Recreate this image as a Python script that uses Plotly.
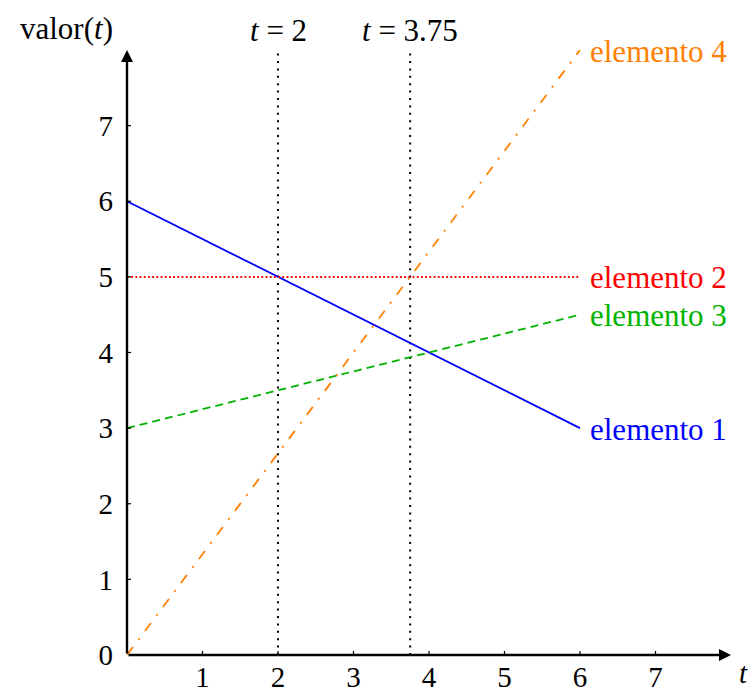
import plotly.graph_objects as go

# Time span over which each element is drawn
t_span = [0, 6]
elemento_1 = [6, 3]
elemento_2 = [5, 5]
elemento_3 = [3, 4.5]
elemento_4 = [0, 8]

series_names = ["elemento 1", "elemento 2", "elemento 3", "elemento 4"]
series_values = [elemento_1, elemento_2, elemento_3, elemento_4]
series_colors = ["#0000ff", "#ff0000", "#00b300", "#ff8000"]
series_dash = ["solid", "1.8px,2.4px", "8px,5px", "10px,9px,2px,9px"]
series_width = [1.8, 2.0, 1.8, 1.8]

# Marked instants
t_marks = [2, 3.75]
t_mark_labels = ["<i>t</i> = 2", "<i>t</i> = 3.75"]

x_ticks = [1, 2, 3, 4, 5, 6, 7]
y_ticks = [0, 1, 2, 3, 4, 5, 6, 7]
axis_max = 8

FONT = "Liberation Serif"
FSIZE = 31
TICKSIZE = 29

fig = go.Figure()

# Vertical dotted guides at the marked instants
for tm in t_marks:
    fig.add_trace(go.Scatter(
        x=[tm, tm], y=[0, axis_max], mode="lines",
        line=dict(color="black", width=2, dash="2px,5.4px"),
        hoverinfo="skip", showlegend=False))

for name, vals, col, dash, w in zip(series_names, series_values, series_colors,
                                    series_dash, series_width):
    fig.add_trace(go.Scatter(
        x=t_span, y=vals, mode="lines", name=name,
        line=dict(color=col, width=w, dash=dash),
        showlegend=False))

annotations = []
# Series labels at the right end of each line
for name, vals, col in zip(series_names, series_values, series_colors):
    annotations.append(dict(
        x=t_span[-1], y=vals[-1], xref="x", yref="y", text=name,
        showarrow=False, xanchor="left", yanchor="middle", xshift=8, yshift=-1,
        font=dict(family=FONT, size=FSIZE, color=col)))

# Labels above the guides
for tm, lab in zip(t_marks, t_mark_labels):
    annotations.append(dict(
        x=tm, y=axis_max, xref="x", yref="y", text=lab, showarrow=False,
        xanchor="center", yanchor="bottom", yshift=0,
        font=dict(family=FONT, size=FSIZE, color="black")))

# Axes with arrow heads
annotations.append(dict(
    x=axis_max, y=0, ax=0, ay=0, xref="x", yref="y", axref="x", ayref="y",
    text="", showarrow=True, arrowhead=2, arrowsize=1, arrowwidth=2.4,
    arrowcolor="black"))
annotations.append(dict(
    x=0, y=axis_max, ax=0, ay=0, xref="x", yref="y", axref="x", ayref="y",
    text="", showarrow=True, arrowhead=2, arrowsize=1, arrowwidth=2.4,
    arrowcolor="black"))

# Axis titles
annotations.append(dict(
    x=0, y=axis_max, xref="x", yref="y", text="valor(<i>t</i>)",
    showarrow=False, xanchor="right", yanchor="bottom", xshift=-12, yshift=2,
    font=dict(family=FONT, size=FSIZE, color="black")))
annotations.append(dict(
    x=axis_max, y=0, xref="x", yref="y", text="<i>t</i>",
    showarrow=False, xanchor="left", yanchor="top", xshift=6, yshift=0,
    font=dict(family=FONT, size=TICKSIZE, color="black")))

# Small tick marks crossing the axes
shapes = []
for xt in x_ticks:
    shapes.append(dict(type="line", xref="x", yref="y", x0=xt, x1=xt,
                       ysizemode="pixel", yanchor=0, y0=-4, y1=4,
                       line=dict(color="black", width=1.2)))
for yt in y_ticks[1:]:
    shapes.append(dict(type="line", xref="x", yref="y", y0=yt, y1=yt,
                       xsizemode="pixel", xanchor=0, x0=-4, x1=4,
                       line=dict(color="black", width=1.2)))

fig.update_layout(
    width=755, height=692,
    margin=dict(l=127, r=24, t=50, b=37),
    paper_bgcolor="white", plot_bgcolor="white",
    annotations=annotations, shapes=shapes,
    xaxis=dict(range=[0, axis_max], tickvals=x_ticks, ticktext=[str(v) for v in x_ticks],
               showgrid=False, zeroline=False, showline=False, ticks="",
               ticklabelstandoff=2, automargin=False,
               tickfont=dict(family=FONT, size=TICKSIZE, color="black")),
    yaxis=dict(range=[0, axis_max], tickvals=y_ticks, ticktext=[str(v) for v in y_ticks],
               showgrid=False, zeroline=False, showline=False, ticks="",
               ticklabelstandoff=13, automargin=False,
               tickfont=dict(family=FONT, size=TICKSIZE, color="black")),
)

fig.write_html("out.html")
